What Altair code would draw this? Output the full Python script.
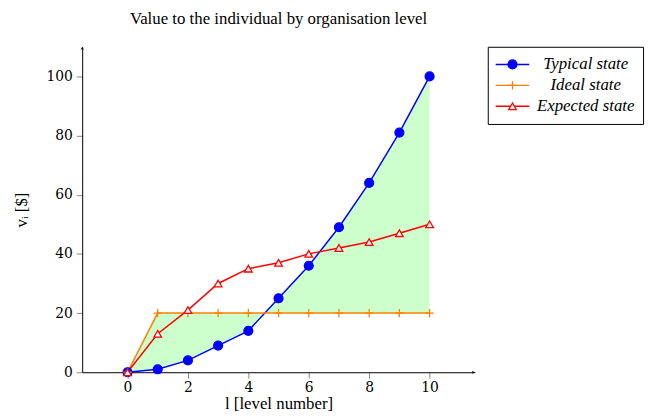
import altair as alt
import pandas as pd

levels = list(range(11))
typical = [0, 1, 4, 9, 14, 25, 36, 49, 64, 81, 100]
ideal = [0, 20, 20, 20, 20, 20, 20, 20, 20, 20, 20]
expected = [0, 13, 21, 30, 35, 37, 40, 42, 44, 47, 50]
series_names = ["Typical state", "Ideal state", "Expected state"]
series_colors = ["#0000ff", "#ff8000", "#ff0000"]
series_fills = ["#0000ff", "#ff8000", "#ffffff"]
series_shapes = ["circle", "M-1,0L1,0M0,-1L0,1", "triangle-up"]
series_sizes = [81, 60, 60]
x_ticks = [0, 2, 4, 6, 8, 10]
y_ticks = [0, 20, 40, 60, 80, 100]
x_domain = [-1.5, 11.5]
y_domain = [0, 110]

FONT = "Liberation Serif"
NUM_FONT = "DejaVu Serif"

long_df = pd.DataFrame({
    "level": levels * 3,
    "value": typical + ideal + expected,
    "series": [series_names[0]] * 11 + [series_names[1]] * 11 + [series_names[2]] * 11,
    "order": [0] * 11 + [1] * 11 + [2] * 11,
})
fill_df = pd.DataFrame({"level": levels, "typical": typical, "ideal": ideal})
arrow_df = pd.DataFrame({"x": [x_domain[1], x_domain[0]], "y": [y_domain[0], y_domain[1]], "angle": [0, 270]})

xs = alt.Scale(domain=x_domain, nice=False, zero=False)
ys = alt.Scale(domain=y_domain, nice=False)
col = alt.Color("series:N", scale=alt.Scale(domain=series_names, range=series_colors), legend=None)
stk = alt.Stroke("series:N", scale=alt.Scale(domain=series_names, range=series_colors), legend=None)
fil = alt.Fill("series:N", scale=alt.Scale(domain=series_names, range=series_fills), legend=None)
shp = alt.Shape("series:N", scale=alt.Scale(domain=series_names, range=series_shapes), legend=None)
siz = alt.Size("series:N", scale=alt.Scale(domain=series_names, range=series_sizes), legend=None)

axis_style = dict(
    titleFont=FONT, titleFontSize=17, labelFont=NUM_FONT, labelFontSize=14,
    titleFontWeight="normal", labelColor="black", titleColor="black",
    grid=False, domainColor="black", domainWidth=1, tickColor="#888888",
    tickSize=6,
)

area = alt.Chart(fill_df).mark_area(color="#ccffcc", opacity=1).encode(
    x=alt.X("level:Q", scale=xs,
            axis=alt.Axis(values=x_ticks, title="l [level number]", labelPadding=2,
                          titlePadding=2, **axis_style)),
    y=alt.Y("typical:Q", scale=ys,
            axis=alt.Axis(values=y_ticks, title="vᵢ [$]", labelPadding=4,
                          titlePadding=16, **axis_style)),
    y2="ideal:Q",
)

lines = alt.Chart(long_df).mark_line(strokeWidth=1.5).encode(
    x=alt.X("level:Q", scale=xs),
    y=alt.Y("value:Q", scale=ys),
    color=col,
    detail="series:N",
)

points = alt.Chart(long_df).mark_point(opacity=1, strokeWidth=1.3).encode(
    x=alt.X("level:Q", scale=xs),
    y=alt.Y("value:Q", scale=ys),
    stroke=stk, fill=fil, shape=shp, size=siz,
    order="order:Q",
)

arrows = alt.Chart(arrow_df).mark_point(
    shape="M0,0L-1,-0.55L-0.65,0L-1,0.55Z", filled=True, color="black", size=40, opacity=1
).encode(
    x=alt.X("x:Q", scale=xs),
    y=alt.Y("y:Q", scale=ys),
    angle=alt.Angle("angle:Q", scale=None),
)

main = alt.layer(area, lines, points, arrows).properties(
    width=397, height=329,
    title=alt.TitleParams("Value to the individual by organisation level", font=FONT,
                          fontSize=17, fontWeight="normal", offset=19, color="black"),
)

legend_df = pd.DataFrame({"series": series_names})
ly = alt.Y("series:N", sort=series_names, axis=None, scale=alt.Scale(padding=0.68))
lrule = alt.Chart(legend_df).mark_rule(strokeWidth=1.5).encode(
    y=ly, x=alt.value(8), x2=alt.value(42), color=col)
lpts = alt.Chart(legend_df).mark_point(opacity=1, strokeWidth=1.3).encode(
    y=ly, x=alt.value(25), stroke=stk, fill=fil, shape=shp, size=siz)
ltxt = alt.Chart(legend_df).mark_text(font=FONT, fontStyle="italic", fontSize=17, align="center",
                                      baseline="middle", color="black").encode(
    y=ly, x=alt.value(99), text="series:N")
legend = alt.layer(lrule, lpts, ltxt).properties(
    width=157, height=78,
    view=alt.ViewBackground(stroke="black", strokeWidth=1),
    title=alt.TitleParams(" ", font=FONT, fontSize=17, offset=12),
)

chart = alt.hconcat(main, legend, spacing=12).properties(
    padding={"left": 4, "top": 0, "right": 5, "bottom": 0}
).configure(font=FONT).configure_view(stroke=None)

chart.save("out.html", embed_options={"renderer": "svg", "actions": False})
